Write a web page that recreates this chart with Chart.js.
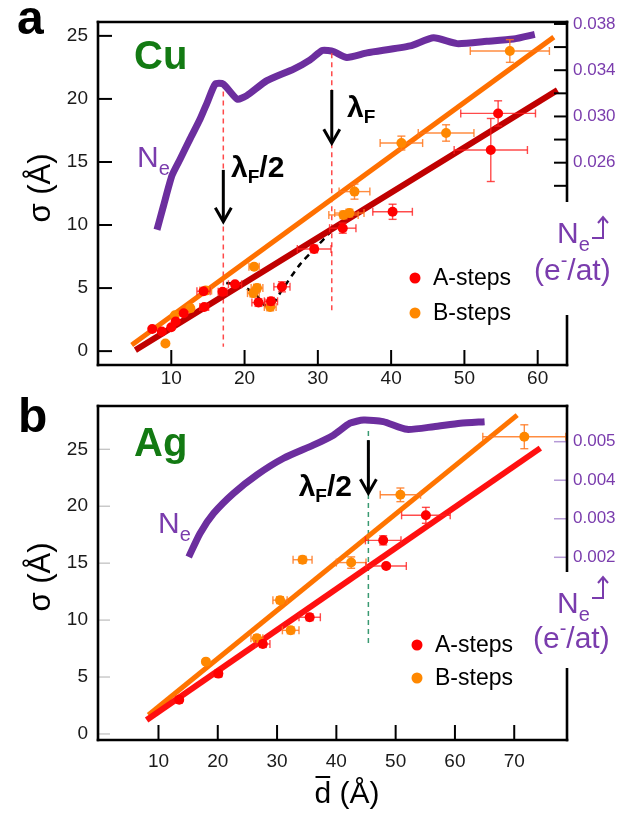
<!DOCTYPE html>
<html><head><meta charset="utf-8">
<script src="https://cdn.jsdelivr.net/npm/chart.js@4.4.1/dist/chart.umd.min.js"></script>
<style>
html,body{margin:0;padding:0;background:#fff;width:633px;height:821px;overflow:hidden}
canvas{position:absolute;left:0}
#ca{top:0}
#cb{top:390px}
</style></head><body>
<canvas id="ca" width="633" height="390"></canvas>
<canvas id="cb" width="633" height="431"></canvas>
<script>
// ---------------- DATA ----------------
// Panel a (Cu)
const cuSigmaTicks = [0, 5, 10, 15, 20, 25];
const cuDTicks = [10, 20, 30, 40, 50, 60];
const cuNeTicks = [0.024, 0.026, 0.028, 0.030, 0.032, 0.034, 0.036, 0.038];
const cuNeTickLabels = ['', '0.026', '', '0.030', '', '0.034', '', '0.038'];

const cuA_d     = [7.4, 8.7, 10.0, 10.6, 11.7, 14.5, 14.4, 17.0, 18.7, 21.9, 23.6, 25.1, 29.5, 33.4, 40.2, 53.6, 54.6];
const cuA_sigma = [1.75, 1.55, 1.9, 2.35, 3.0, 3.5, 4.75, 4.7, 5.3, 3.85, 3.95, 5.1, 8.1, 9.75, 11.05, 15.95, 18.85];
const cuA_dErr  = [0, 0, 0, 0, 0, 0.6, 0.9, 0.6, 0.9, 0.9, 0.9, 1.1, 2.3, 1.8, 2.7, 5.0, 5.1];
const cuA_sErr  = [0, 0, 0, 0, 0, 0, 0, 0, 0, 0.3, 0.3, 0.4, 0.3, 0.4, 0.6, 2.5, 1.0];

const cuB_d     = [9.2, 10.5, 12.6, 14.7, 21.3, 21.7, 21.2, 23.5, 33.5, 34.3, 35.0, 41.4, 47.5, 56.2];
const cuB_sigma = [0.6, 2.85, 3.4, 4.8, 6.7, 5.0, 4.6, 3.5, 10.8, 10.95, 12.65, 16.5, 17.3, 23.8];
const cuB_dErr  = [0, 0, 0.4, 0.8, 0.7, 0.8, 0.8, 0.8, 2.0, 2.0, 2.1, 2.9, 3.8, 5.4];
const cuB_sErr  = [0, 0, 0, 0, 0, 0.3, 0.3, 0.3, 0.3, 0.3, 0.6, 0.55, 0.65, 0.9];

const cuFitA_d = [5.1, 62.7],  cuFitA_sigma = [0.08, 20.7];
const cuFitB_d = [4.6, 62.2],  cuFitB_sigma = [0.48, 24.9];

const cuGuide_d     = [17.5, 19.4, 21.6, 22.7, 23.8, 25.1, 27.6, 29.8, 31.7];
const cuGuide_sigma = [5.40, 5.24, 4.44, 3.65, 3.73, 4.84, 6.90, 8.25, 9.44];

const cuNe_d = [8.05, 8.95, 10.1, 11.2, 12.6, 13.95, 14.9, 16.0, 17.1, 19.0, 20.3, 23.05, 26.7, 28.95, 30.55, 31.4, 32.2, 33.96, 36.7, 42.6, 45.8, 49.0, 53.05, 56.7, 59.6];
const cuNe   = [0.0202, 0.0223, 0.0249, 0.0263, 0.0281, 0.0298, 0.0312, 0.0328, 0.0328, 0.0315, 0.0318, 0.0331, 0.0341, 0.0349, 0.0357, 0.0357, 0.0356, 0.0351, 0.0355, 0.0361, 0.0368, 0.0363, 0.0365, 0.0367, 0.0371];

const cuLambdaHalf_d = [17.1, 17.1], cuLambdaHalf_sigma = [20.58, 0.34];
const cuLambda_d = [31.9, 31.9],     cuLambda_sigma = [23.63, 3.12];

// Panel b (Ag)
const agSigmaTicks = [0, 5, 10, 15, 20, 25];
const agDTicks = [10, 20, 30, 40, 50, 60, 70];
const agNeTicks = [0.002, 0.003, 0.004, 0.005];
const agNeTickLabels = ['0.002', '0.003', '0.004', '0.005'];

const agA_d     = [13.5, 20.1, 27.6, 35.5, 47.9, 48.4, 55.1];
const agA_sigma = [3.0, 5.3, 7.9, 10.25, 17.0, 14.75, 19.2];
const agA_dErr  = [0.5, 0.6, 1.2, 1.8, 3.0, 3.4, 4.1];
const agA_sErr  = [0.2, 0.2, 0.3, 0.3, 0.4, 0.2, 0.7];

const agB_d     = [18.0, 26.6, 30.5, 32.3, 34.3, 42.5, 50.8, 71.7];
const agB_sigma = [6.35, 8.4, 11.75, 9.1, 15.3, 15.05, 21.0, 26.1];
const agB_dErr  = [0.3, 1.0, 1.2, 1.4, 1.6, 2.5, 3.4, 7.0];
const agB_sErr  = [0.2, 0.3, 0.3, 0.3, 0.3, 0.5, 0.6, 1.05];

const agFitA_d = [8.0, 74.4], agFitA_sigma = [1.23, 25.1];
const agFitB_d = [8.3, 70.5], agFitB_sigma = [1.67, 28.0];

const agNe_d = [15.1, 17.0, 19.3, 22.65, 26.6, 31.1, 36.1, 39.5, 42.3, 44.6, 47.9, 51.9, 56.4, 60.9, 65.0];
const agNe   = [0.00201, 0.00262, 0.00314, 0.00366, 0.00414, 0.00457, 0.00491, 0.00517, 0.00548, 0.00556, 0.00552, 0.00532, 0.00539, 0.00548, 0.00552];

const agLambdaHalf_d = [45.4, 45.4], agLambdaHalf_sigma = [26.6, 7.66];

// ---------------- RENDERING ----------------
const FONT = "'Liberation Sans', Arial, Helvetica, sans-serif";
const PURPLE = '#6c2e9e';
const PURPLE_TXT = '#7a3cad';
const GREEN = '#137a13';
const pts = (xs, ys) => xs.map((x, i) => ({x: x, y: ys[i]}));

function rich(ctx, parts, x, y, align) {
  let w = 0;
  parts.forEach(p => {
    ctx.font = (p.bold ? 'bold ' : '') + p.size + 'px ' + FONT;
    p.w = ctx.measureText(p.t).width;
    w += p.w + (p.gap || 0);
  });
  let cx = align === 'center' ? x - w / 2 : (align === 'right' ? x - w : x);
  parts.forEach(p => {
    ctx.font = (p.bold ? 'bold ' : '') + p.size + 'px ' + FONT;
    ctx.fillStyle = p.color || '#000';
    ctx.textAlign = 'left';
    ctx.textBaseline = 'alphabetic';
    ctx.fillText(p.t, cx, y + (p.dy || 0));
    cx += p.w + (p.gap || 0);
  });
}
function seg(ctx, x1, y1, x2, y2) { ctx.beginPath(); ctx.moveTo(x1, y1); ctx.lineTo(x2, y2); ctx.stroke(); }

const errorBars = {
  id: 'errorBars',
  beforeDatasetDraw(chart, args) {
    const ds = chart.data.datasets[args.index];
    if (!ds.errX) return;
    const {ctx, scales} = chart;
    const xs = scales.x, ys = scales[ds.yAxisID || 'y'];
    ctx.save();
    ctx.strokeStyle = ds.errColor;
    ctx.lineWidth = 1.4;
    ds.data.forEach((p, i) => {
      const px = xs.getPixelForValue(p.x), py = ys.getPixelForValue(p.y);
      const ex = ds.errX[i], ey = ds.errY[i];
      if (ex > 0) {
        const x1 = xs.getPixelForValue(p.x - ex), x2 = xs.getPixelForValue(p.x + ex);
        seg(ctx, x1, py, x2, py);
        seg(ctx, x1, py - 4, x1, py + 4);
        seg(ctx, x2, py - 4, x2, py + 4);
      }
      if (ey > 0) {
        const y1 = ys.getPixelForValue(p.y - ey), y2 = ys.getPixelForValue(p.y + ey);
        seg(ctx, px, y1, px, y2);
        seg(ctx, px - 4, y1, px + 4, y1);
        seg(ctx, px - 4, y2, px + 4, y2);
      }
    });
    ctx.restore();
  }
};

function makeDecor(L) {
  return {
    id: 'decor',
    afterDraw(chart) {
      const {ctx, chartArea: a, scales} = chart;
      ctx.save();
      // ticks (inward)
      ctx.lineCap = 'butt';
      ctx.strokeStyle = L.leftTickColor; ctx.lineWidth = L.leftTickWidth;
      scales.y.ticks.forEach(t => { const y = scales.y.getPixelForValue(t.value); seg(ctx, a.left, y, a.left + L.leftTickLen, y); });
      ctx.strokeStyle = '#000'; ctx.lineWidth = 2;
      scales.x.ticks.forEach(t => { const x = scales.x.getPixelForValue(t.value); seg(ctx, x, a.bottom, x, a.bottom - 15); });
      ctx.strokeStyle = L.rightTickColor; ctx.lineWidth = L.rightTickWidth;
      scales.y2.ticks.forEach(t => { const y = scales.y2.getPixelForValue(t.value); seg(ctx, a.right - 13, y, a.right, y); });
      // frame
      ctx.strokeStyle = '#000'; ctx.lineWidth = 2.6; ctx.lineCap = 'square';
      seg(ctx, a.left, a.top, a.right, a.top);
      seg(ctx, a.left, a.top, a.left, a.bottom);
      seg(ctx, a.left, a.bottom, a.right, a.bottom);
      ctx.lineCap = 'butt';
      seg(ctx, a.right, a.top - 1.3, a.right, L.gapTop);
      seg(ctx, a.right, L.gapBottom, a.right, a.bottom + 1.3);

      // arrows
      ctx.strokeStyle = '#000'; ctx.lineWidth = 3;
      L.arrows.forEach(ar => {
        const x = scales.x.getPixelForValue(ar.d);
        const y1 = scales.y.getPixelForValue(ar.from), y2 = scales.y.getPixelForValue(ar.to);
        seg(ctx, x, y1, x, y2 - 1);
        ctx.beginPath(); ctx.moveTo(x - 8, y2 - 14); ctx.lineTo(x, y2); ctx.lineTo(x + 8, y2 - 14); ctx.stroke();
      });
      // lambda labels
      L.lambdas.forEach(l => {
        const parts = [{t: 'λ', size: 30, bold: true}, {t: 'F', size: 19, bold: true, dy: 6}];
        if (l.half) parts.push({t: '/2', size: 30, bold: true});
        rich(ctx, parts, l.x, l.y, l.align);
      });
      // metal name
      rich(ctx, [{t: L.metal, size: 40, bold: true, color: GREEN}], L.metalX, L.metalY, 'left');
      // Ne curve label
      rich(ctx, [{t: 'N', size: 30, color: PURPLE_TXT}, {t: 'e', size: 20, color: PURPLE_TXT, dy: 8}], L.neX, L.neY, 'left');
      // right axis title
      rich(ctx, [{t: 'N', size: 30, color: PURPLE_TXT}, {t: 'e', size: 20, color: PURPLE_TXT, dy: 8}], L.axNeX, L.axNeY, 'left');
      ctx.strokeStyle = PURPLE_TXT; ctx.lineWidth = 2;
      const ax = L.axArrowX, ay = L.axArrowY;
      ctx.beginPath(); ctx.moveTo(ax - 11, ay); ctx.lineTo(ax, ay); ctx.lineTo(ax, ay - 21); ctx.stroke();
      ctx.beginPath(); ctx.moveTo(ax - 5, ay - 15); ctx.lineTo(ax, ay - 21); ctx.lineTo(ax + 5, ay - 15); ctx.stroke();
      rich(ctx, [{t: '(e', size: 30, color: PURPLE_TXT}, {t: '-', size: 20, color: PURPLE_TXT, dy: -13}, {t: '/at)', size: 30, color: PURPLE_TXT}], L.unitX, L.unitY, 'left');
      // legend
      [['A-steps', '#ff0000', 0], ['B-steps', '#ff8800', 1]].forEach(([t, c, i]) => {
        const y = L.legY + i * L.legGap;
        ctx.fillStyle = c; ctx.beginPath(); ctx.arc(L.legX, y, 5.5, 0, Math.PI * 2); ctx.fill();
        ctx.font = '23px ' + FONT; ctx.fillStyle = '#000'; ctx.textAlign = 'left'; ctx.textBaseline = 'middle';
        ctx.fillText(t, L.legX + 18, y + 1);
      });
      // panel letter
      ctx.font = 'bold 48px ' + FONT; ctx.fillStyle = '#000'; ctx.textAlign = 'left'; ctx.textBaseline = 'alphabetic';
      ctx.fillText(L.letter, L.letterX, L.letterY);
      // y axis title
      ctx.save();
      ctx.translate(41, L.sigmaY); ctx.rotate(-Math.PI / 2);
      ctx.font = '31px ' + FONT; ctx.fillStyle = '#000'; ctx.textAlign = 'center'; ctx.textBaseline = 'middle';
      ctx.fillText('σ (Å)', 0, 0);
      ctx.restore();
      // x axis title
      if (L.xTitle) {
        ctx.font = '30px ' + FONT; ctx.fillStyle = '#000'; ctx.textAlign = 'left'; ctx.textBaseline = 'alphabetic';
        const full = 'd (Å)';
        const w = ctx.measureText(full).width, wd = ctx.measureText('d').width;
        const x0 = L.xTitleX - w / 2;
        ctx.fillText(full, x0, L.xTitleY);
        ctx.strokeStyle = '#000'; ctx.lineWidth = 2;
        seg(ctx, x0 + 1, L.xTitleY - 26, x0 + wd - 1, L.xTitleY - 26);
      }
      ctx.restore();
    }
  };
}

function makeChart(id, P) {
  const tickFont = {family: FONT, size: 19};
  return new Chart(document.getElementById(id), {
    type: 'scatter',
    data: {datasets: [
      {data: pts(P.ne_d, P.ne), yAxisID: 'y2', showLine: true, borderColor: PURPLE, borderWidth: 7, pointRadius: 0, tension: 0.2, borderCapStyle: 'butt', borderJoinStyle: 'round', order: 9},
      ...P.verticals.map(v => ({data: pts(v.d, v.s), showLine: true, borderColor: v.color, borderWidth: 1.5, borderDash: [5, 4], pointRadius: 0, order: 6})),
      ...(P.guide ? [{data: pts(P.guide.d, P.guide.s), showLine: true, borderColor: '#000', borderWidth: 2.5, borderDash: [6, 5], pointRadius: 0, tension: 0.3, order: 7}] : []),
      {data: pts(P.fitA.d, P.fitA.s), showLine: true, borderColor: P.fitA.color, borderWidth: 6, pointRadius: 0, order: 5},
      {data: pts(P.fitB.d, P.fitB.s), showLine: true, borderColor: P.fitB.color, borderWidth: 5, pointRadius: 0, order: 5},
      {label: 'B-steps', data: pts(P.B.d, P.B.s), errX: P.B.dErr, errY: P.B.sErr, errColor: 'rgba(255,120,30,0.85)', pointRadius: 5, backgroundColor: '#ff8800', borderWidth: 0, order: 1},
      {label: 'A-steps', data: pts(P.A.d, P.A.s), errX: P.A.dErr, errY: P.A.sErr, errColor: 'rgba(255,30,30,0.8)', pointRadius: 5, backgroundColor: '#ff0000', borderWidth: 0, order: 0}
    ]},
    options: {
      responsive: false, animation: false, events: [],
      layout: {padding: {top: P.padTop, left: 0, right: 0, bottom: 0}},
      plugins: {legend: {display: false}, tooltip: {enabled: false}, title: {display: false}},
      scales: {
        x: {type: 'linear', position: 'bottom', min: P.xMin, max: P.xMax,
            afterBuildTicks: s => { s.ticks = P.xTicks.map(v => ({value: v})); },
            afterFit: s => { s.height = P.xHeight; s.paddingLeft = s.paddingRight = 0; },
            grid: {display: false, drawTicks: false}, border: {display: false},
            ticks: {autoSkip: false, maxRotation: 0, padding: P.xPad, font: tickFont, color: '#1a1a1a', callback: v => String(v)}},
        y: {type: 'linear', position: 'left', min: P.yMin, max: P.yMax,
            afterBuildTicks: s => { s.ticks = P.yTicks.map(v => ({value: v})); },
            afterFit: s => { s.width = 98; s.paddingTop = s.paddingBottom = 0; },
            grid: {display: false, drawTicks: false}, border: {display: false},
            ticks: {autoSkip: false, padding: 10, font: tickFont, color: '#1a1a1a', callback: v => String(v)}},
        y2: {type: 'linear', position: 'right', min: P.y2Min, max: P.y2Max,
            afterBuildTicks: s => { s.ticks = P.y2Ticks.map(v => ({value: v})); },
            afterFit: s => { s.width = 66; s.paddingTop = s.paddingBottom = 0; },
            grid: {display: false, drawTicks: false}, border: {display: false},
            ticks: {autoSkip: false, padding: 6, font: {family: FONT, size: 17}, color: PURPLE_TXT, callback: (v, i) => P.y2Labels[i]}}
      }
    },
    plugins: [errorBars, makeDecor(P.L)]
  });
}

makeChart('ca', {
  ne_d: cuNe_d, ne: cuNe,
  verticals: [{d: cuLambdaHalf_d, s: cuLambdaHalf_sigma, color: '#ff4a4a'}, {d: cuLambda_d, s: cuLambda_sigma, color: '#ff4a4a'}],
  guide: {d: cuGuide_d, s: cuGuide_sigma},
  fitA: {d: cuFitA_d, s: cuFitA_sigma, color: '#c00000'},
  fitB: {d: cuFitB_d, s: cuFitB_sigma, color: '#ff7000'},
  A: {d: cuA_d, s: cuA_sigma, dErr: cuA_dErr, sErr: cuA_sErr},
  B: {d: cuB_d, s: cuB_sigma, dErr: cuB_dErr, sErr: cuB_sErr},
  padTop: 22, xHeight: 25, xPad: 2,
  xMin: 0, xMax: 64, xTicks: cuDTicks,
  yMin: -1.1, yMax: 26.1, yTicks: cuSigmaTicks,
  y2Min: 0.0085, y2Max: 0.03817, y2Ticks: cuNeTicks, y2Labels: cuNeTickLabels,
  L: {
    leftTickColor: '#000', leftTickWidth: 2, leftTickLen: 14,
    rightTickColor: '#000', rightTickWidth: 2,
    gapTop: 202, gapBottom: 315,
    arrows: [{d: 17.1, from: 14.37, to: 10.26}, {d: 31.9, from: 20.71, to: 16.48}],
    lambdas: [{x: 231, y: 177, half: true, align: 'left'}, {x: 347, y: 117, half: false, align: 'left'}],
    metal: 'Cu', metalX: 134, metalY: 69,
    neX: 137, neY: 167,
    axNeX: 557, axNeY: 243, axArrowX: 603, axArrowY: 238,
    unitX: 534, unitY: 280,
    legX: 415, legY: 278, legGap: 35,
    letter: 'a', letterX: 17, letterY: 34,
    sigmaY: 188
  }
});

makeChart('cb', {
  ne_d: agNe_d, ne: agNe,
  verticals: [{d: agLambdaHalf_d, s: agLambdaHalf_sigma, color: '#3a9a72'}],
  guide: null,
  fitA: {d: agFitA_d, s: agFitA_sigma, color: '#ff1010'},
  fitB: {d: agFitB_d, s: agFitB_sigma, color: '#ff7400'},
  A: {d: agA_d, s: agA_sigma, dErr: agA_dErr, sErr: agA_sErr},
  B: {d: agB_d, s: agB_sigma, dErr: agB_dErr, sErr: agB_sErr},
  padTop: 16, xHeight: 81, xPad: 10,
  xMin: -0.2, xMax: 78.9, xTicks: agDTicks,
  yMin: -0.53, yMax: 28.8, yTicks: agSigmaTicks,
  y2Min: -0.002741, y2Max: 0.005926, y2Ticks: agNeTicks, y2Labels: agNeTickLabels,
  L: {
    leftTickColor: '#bdbdbd', leftTickWidth: 1.2, leftTickLen: 12,
    rightTickColor: '#b59ad6', rightTickWidth: 1.5,
    gapTop: 182, gapBottom: 278,
    arrows: [{d: 45.4, from: 25.8, to: 21.13}],
    lambdas: [{x: 352, y: 106, half: true, align: 'right'}],
    metal: 'Ag', metalX: 134, metalY: 66,
    neX: 158, neY: 143,
    axNeX: 557, axNeY: 223, axArrowX: 603, axArrowY: 208,
    unitX: 533, unitY: 258,
    legX: 417, legY: 255, legGap: 33,
    letter: 'b', letterX: 18, letterY: 42,
    sigmaY: 187,
    xTitle: true, xTitleX: 347, xTitleY: 413
  }
});
</script>
</body></html>
